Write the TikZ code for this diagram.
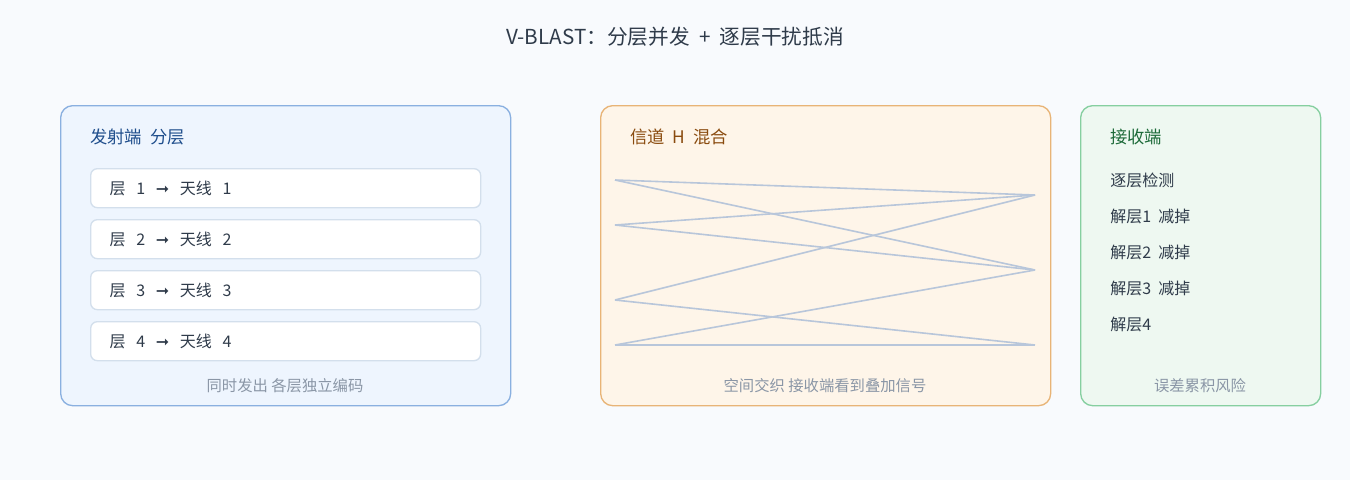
\documentclass[tikz,border=0pt]{standalone}
\usepackage{fontspec}
\setmainfont{Noto Sans CJK SC}
\newfontfamily\symf{DejaVu Sans}
\usetikzlibrary{positioning}
\definecolor{bgpage}{HTML}{F8FAFD}
\definecolor{txblue}{HTML}{1F4E8C}
\definecolor{txbrown}{HTML}{8A4B0F}
\definecolor{txgreen}{HTML}{1E6B3A}
\definecolor{txdark}{HTML}{2F3B4A}
\definecolor{txgrey}{HTML}{8A96A6}
\definecolor{mixline}{HTML}{B8C6DA}
\definecolor{layerdraw}{HTML}{D3DFEC}
\definecolor{txfill}{HTML}{EEF5FE}
\definecolor{txdraw}{HTML}{8AB0E0}
\definecolor{chfill}{HTML}{FEF5E9}
\definecolor{chdraw}{HTML}{E8B477}
\definecolor{rxfill}{HTML}{EEF8F1}
\definecolor{rxdraw}{HTML}{86CFA0}
\tikzset{
  panel/.style={draw, rounded corners=9pt, line width=1pt, anchor=north west, inner sep=0pt},
  layer/.style={draw=layerdraw, fill=white, rounded corners=5pt, line width=1pt,
    minimum width=390*0.75pt, minimum height=39*0.75pt, anchor=north west,
    font=\fontsize{12}{14}\selectfont, text=txdark, align=left, text width=360*0.75pt},
  head/.style={anchor=west, font=\fontsize{13}{15}\selectfont, inner sep=0pt},
  foot/.style={font=\fontsize{11.5}{13}\selectfont, text=txgrey},
  rxstep/.style={anchor=west, font=\fontsize{12}{14}\selectfont, text=txdark, inner sep=0pt},
}
\begin{document}
\begin{tikzpicture}[x=0.75pt, y=-0.75pt]
	\useasboundingbox[fill=bgpage] (0,0) rectangle (1350,480);
	\node[font=\fontsize{15.5}{18}\selectfont, text=txdark] (title) at (675,37) {V-BLAST：分层并发 ~+~ 逐层干扰抵消};
	
	% panels
	\node[panel, draw=txdraw, fill=txfill, minimum width=450*0.75pt, minimum height=300*0.75pt] (tx) at (60,105) {};
	\node[panel, draw=chdraw, fill=chfill, minimum width=450*0.75pt, minimum height=300*0.75pt] (ch) at (600,105) {};
	\node[panel, draw=rxdraw, fill=rxfill, minimum width=240*0.75pt, minimum height=300*0.75pt] (rx) at (1080,105) {};
	
	% transmitter
	\node[head, text=txblue] (txh) at (90,137) {发射端~ 分层};
	\foreach \i in {1,...,4}
		\node[layer] (l\i) at (90,168+51*\i-51) {\hspace*{3pt}层~ \i~ {\symf\char"279E}~ 天线~ \i};
	\node[foot] (txf) at (285,386) {同时发出 各层独立编码};
	
	% channel
	\node[head, text=txbrown] (chh) at (630,137) {信道~ H~ 混合};
	\coordinate (a1) at (615,180);
	\coordinate (a2) at (615,225);
	\coordinate (a3) at (615,300);
	\coordinate (a4) at (615,345);
	\coordinate (b1) at (1035,195);
	\coordinate (b2) at (1035,270);
	\coordinate (b3) at (1035,345);
	\foreach \s/\t in {a1/b1,a1/b2,a2/b1,a2/b2,a3/b1,a3/b3,a4/b2,a4/b3}
		\draw[mixline, line width=1.2pt] (\s) -- (\t);
	\node[foot] (chf) at (825,386) {空间交织 接收端看到叠加信号};
	
	% receiver
	\node[head, text=txgreen] (rxh) at (1110,137) {接收端};
	\node[rxstep] (s0) at (1110,180) {逐层检测};
	\node[rxstep] (s1) at (1110,216) {解层1~ 减掉};
	\node[rxstep] (s2) at (1110,252) {解层2~ 减掉};
	\node[rxstep] (s3) at (1110,288) {解层3~ 减掉};
	\node[rxstep] (s4) at (1110,324) {解层4};
	\node[foot] (rxf) at (1200,386) {误差累积风险};
\end{tikzpicture}
\end{document}
